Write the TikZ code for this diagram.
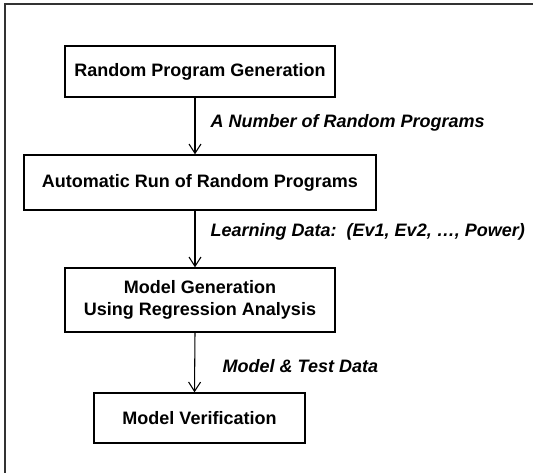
\documentclass[tikz,border=0pt]{standalone}
\usepackage{fontspec}
\setmainfont{Liberation Sans}
\usetikzlibrary{arrows.meta}

\tikzset{
  stepbox/.style={draw, line width=1pt, font=\fontsize{13.5}{17}\selectfont\bfseries, align=center},
  flowlabel/.style={anchor=west, font=\fontsize{13.5}{17}\selectfont\bfseries\itshape},
  flow/.style={line width=0.8pt, -{Straight Barb[length=7pt,width=9pt]}}
}

\begin{document}
\begin{tikzpicture}[x=0.75pt,y=-0.75pt]
    \useasboundingbox (0,0) rectangle (533,473);
    % outer frame
    \draw[line width=1.5pt, black!80] (4.5,473) -- (4.5,4.5) -- (533,4.5);

    \node[stepbox, minimum width=202.5pt, minimum height=38.25pt] (gen) at (200,71.5) {Random Program Generation};
    \node[stepbox, minimum width=264pt, minimum height=41.25pt] (run) at (200,182.5) {Automatic Run of Random Programs};
    \node[stepbox, minimum width=202.5pt, minimum height=48pt] (model) at (200,300) {Model Generation\\Using Regression Analysis};
    \node[stepbox, minimum width=158.25pt, minimum height=37.5pt] (verify) at (199.5,418) {Model Verification};

    \node[flowlabel] (progs) at (206,123) {A Number of Random Programs};
    \node[flowlabel] (learn) at (206,232) {Learning Data:~~(Ev1, Ev2, \dots, Power)};
    \node[flowlabel] (test) at (218,366) {Model \& Test Data};

    \draw[flow] ([xshift=-3.75pt]gen.south) -- ([xshift=-3.75pt]run.north);
    \draw[flow] ([xshift=-3.75pt]run.south) -- ([xshift=-3.75pt]model.north);
    \draw[flow] ([xshift=-3.75pt]model.south) -- ([xshift=-3.75pt]verify.north);
  \end{tikzpicture}
\end{document}
